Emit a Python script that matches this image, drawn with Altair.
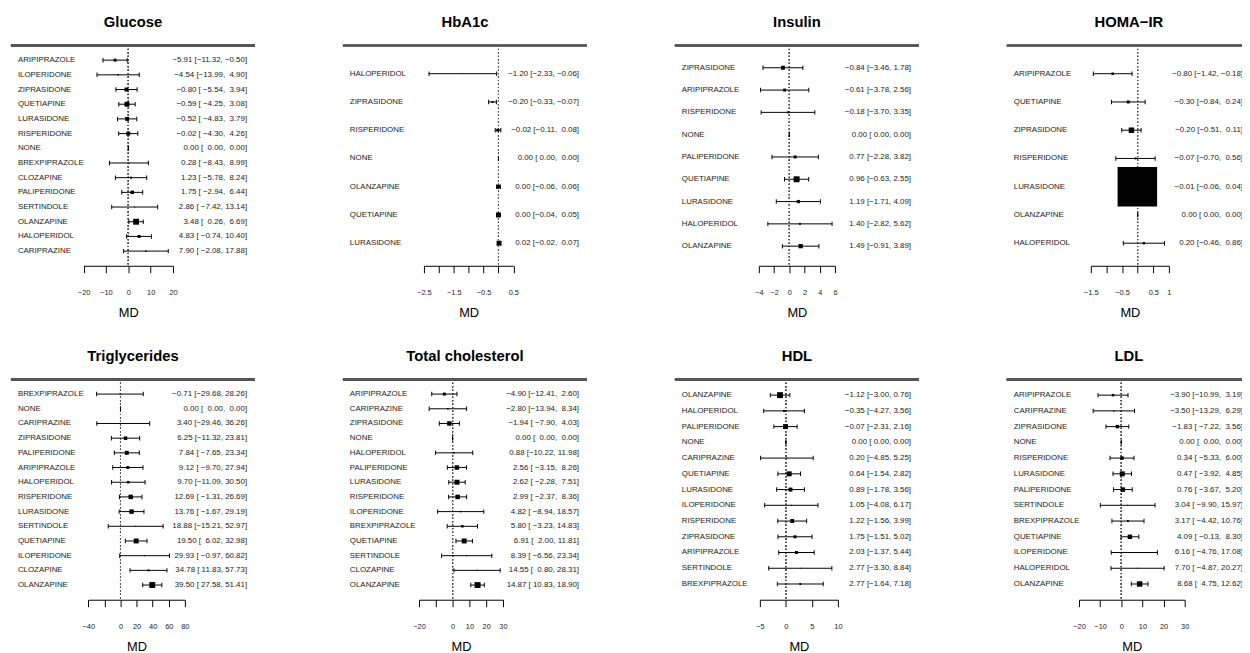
import altair as alt
import pandas as pd

FONT = "Liberation Sans"

# ---------------- data ----------------
glucose_drugs = ["ARIPIPRAZOLE", "ILOPERIDONE", "ZIPRASIDONE", "QUETIAPINE", "LURASIDONE", "RISPERIDONE", "NONE",
                 "BREXPIPRAZOLE", "CLOZAPINE", "PALIPERIDONE", "SERTINDOLE", "OLANZAPINE", "HALOPERIDOL", "CARIPRAZINE"]
glucose_md = [-5.91, -4.54, -0.80, -0.59, -0.52, -0.02, 0.00, 0.28, 1.23, 1.75, 2.86, 3.48, 4.83, 7.90]
glucose_lb = [-11.32, -13.99, -5.54, -4.25, -4.83, -4.30, 0.00, -8.43, -5.78, -2.94, -7.42, 0.26, -0.74, -2.08]
glucose_ub = [-0.50, 4.90, 3.94, 3.08, 3.79, 4.26, 0.00, 8.99, 8.24, 6.44, 13.14, 6.69, 10.40, 17.88]
glucose_wt = [3, 1.5, 4, 5, 4, 4, 0, 1.2, 2, 3.5, 1, 6, 3, 1.5]
glucose_ticks = [-20, -10, 0, 10, 20]
glucose_tick_labels = ["−20", "−10", "0", "10", "20"]

hba1c_drugs = ["HALOPERIDOL", "ZIPRASIDONE", "RISPERIDONE", "NONE", "OLANZAPINE", "QUETIAPINE", "LURASIDONE"]
hba1c_md = [-1.20, -0.20, -0.02, 0.00, 0.00, 0.00, 0.02]
hba1c_lb = [-2.33, -0.33, -0.11, 0.00, -0.06, -0.04, -0.02]
hba1c_ub = [-0.06, -0.07, 0.08, 0.00, 0.06, 0.05, 0.07]
hba1c_wt = [0.8, 2, 3, 0, 4, 5, 5]
hba1c_ticks = [-2.5, -2, -1.5, -1, -0.5, 0, 0.5]
hba1c_tick_labels = ["−2.5", "", "−1.5", "", "−0.5", "", "0.5"]

insulin_drugs = ["ZIPRASIDONE", "ARIPIPRAZOLE", "RISPERIDONE", "NONE", "PALIPERIDONE", "QUETIAPINE", "LURASIDONE",
                 "HALOPERIDOL", "OLANZAPINE"]
insulin_md = [-0.84, -0.61, -0.18, 0.00, 0.77, 0.96, 1.19, 1.40, 1.49]
insulin_lb = [-3.46, -3.78, -3.70, 0.00, -2.28, -0.63, -1.71, -2.82, -0.91]
insulin_ub = [1.78, 2.56, 3.35, 0.00, 3.82, 2.55, 4.09, 5.62, 3.89]
insulin_wt = [4, 3, 2, 0, 3, 6, 3.3, 2, 4.3]
insulin_ticks = [-4, -2, 0, 2, 4, 6]
insulin_tick_labels = ["−4", "−2", "0", "2", "4", "6"]

homa_drugs = ["ARIPIPRAZOLE", "QUETIAPINE", "ZIPRASIDONE", "RISPERIDONE", "LURASIDONE", "OLANZAPINE", "HALOPERIDOL"]
homa_md = [-0.80, -0.30, -0.20, -0.07, -0.01, 0.00, 0.20]
homa_lb = [-1.42, -0.84, -0.51, -0.70, -0.06, 0.00, -0.46]
homa_ub = [-0.18, 0.24, 0.11, 0.56, 0.04, 0.00, 0.86]
homa_wt = [2.5, 3, 5.5, 2, 40, 0, 2.5]
homa_ticks = [-1.5, -1, -0.5, 0, 0.5, 1]
homa_tick_labels = ["−1.5", "", "−0.5", "", "0.5", "1"]

trig_drugs = ["BREXPIPRAZOLE", "NONE", "CARIPRAZINE", "ZIPRASIDONE", "PALIPERIDONE", "ARIPIPRAZOLE", "HALOPERIDOL",
              "RISPERIDONE", "LURASIDONE", "SERTINDOLE", "QUETIAPINE", "ILOPERIDONE", "CLOZAPINE", "OLANZAPINE"]
trig_md = [-0.71, 0.00, 3.40, 6.25, 7.84, 9.12, 9.70, 12.69, 13.76, 18.88, 19.50, 29.93, 34.78, 39.50]
trig_lb = [-29.68, 0.00, -29.46, -11.32, -7.65, -9.70, -11.09, -1.31, -1.67, -15.21, 6.02, -0.97, 11.83, 27.58]
trig_ub = [28.26, 0.00, 36.26, 23.81, 23.34, 27.94, 30.50, 26.69, 29.19, 52.97, 32.98, 60.82, 57.73, 51.41]
trig_wt = [1, 0, 1, 3.5, 4, 3, 2.5, 4.5, 4.5, 1, 5, 1, 2, 6]
trig_ticks = [-40, -20, 0, 20, 40, 60, 80]
trig_tick_labels = ["−40", "", "0", "20", "40", "60", "80"]

tc_drugs = ["ARIPIPRAZOLE", "CARIPRAZINE", "ZIPRASIDONE", "NONE", "HALOPERIDOL", "PALIPERIDONE", "LURASIDONE",
            "RISPERIDONE", "ILOPERIDONE", "BREXPIPRAZOLE", "QUETIAPINE", "SERTINDOLE", "CLOZAPINE", "OLANZAPINE"]
tc_md = [-4.90, -2.80, -1.94, 0.00, 0.88, 2.56, 2.62, 2.99, 4.82, 5.80, 6.91, 8.39, 14.55, 14.87]
tc_lb = [-12.41, -13.94, -7.90, 0.00, -10.22, -3.15, -2.28, -2.37, -8.94, -3.23, 2.00, -6.56, 0.80, 10.83]
tc_ub = [2.60, 8.34, 4.03, 0.00, 11.98, 8.26, 7.51, 8.36, 18.57, 14.83, 11.81, 23.34, 28.31, 18.90]
tc_wt = [3, 1.5, 4.5, 0, 1.5, 4.5, 5, 4.5, 1.5, 2.5, 5, 1, 1, 6]
tc_ticks = [-20, -10, 0, 10, 20, 30]
tc_tick_labels = ["−20", "", "0", "10", "20", "30"]

hdl_drugs = ["OLANZAPINE", "HALOPERIDOL", "PALIPERIDONE", "NONE", "CARIPRAZINE", "QUETIAPINE", "LURASIDONE",
             "ILOPERIDONE", "RISPERIDONE", "ZIPRASIDONE", "ARIPIPRAZOLE", "SERTINDOLE", "BREXPIPRAZOLE"]
hdl_md = [-1.12, -0.35, -0.07, 0.00, 0.20, 0.64, 0.89, 1.05, 1.22, 1.75, 2.03, 2.77, 2.77]
hdl_lb = [-3.00, -4.27, -2.31, 0.00, -4.85, -1.54, -1.78, -4.08, -1.56, -1.51, -1.37, -3.30, -1.64]
hdl_ub = [0.76, 3.56, 2.16, 0.00, 5.25, 2.82, 3.56, 6.17, 3.99, 5.02, 5.44, 8.84, 7.18]
hdl_wt = [6, 2, 5, 0, 1, 5, 4, 1, 4, 3, 3, 1, 2]
hdl_ticks = [-5, 0, 5, 10]
hdl_tick_labels = ["−5", "0", "5", "10"]

ldl_drugs = ["ARIPIPRAZOLE", "CARIPRAZINE", "ZIPRASIDONE", "NONE", "RISPERIDONE", "LURASIDONE", "PALIPERIDONE",
             "SERTINDOLE", "BREXPIPRAZOLE", "QUETIAPINE", "ILOPERIDONE", "HALOPERIDOL", "OLANZAPINE"]
ldl_md = [-3.90, -3.50, -1.83, 0.00, 0.34, 0.47, 0.76, 3.04, 3.17, 4.09, 6.16, 7.70, 8.68]
ldl_lb = [-10.99, -13.29, -7.22, 0.00, -5.33, -3.92, -3.67, -9.90, -4.42, -0.13, -4.76, -4.87, 4.75]
ldl_ub = [3.19, 6.29, 3.56, 0.00, 6.00, 4.85, 5.20, 15.97, 10.76, 8.30, 17.08, 20.27, 12.62]
ldl_wt = [2.5, 1.5, 3.5, 0, 3.5, 5, 4.5, 1, 2, 4.5, 1, 1, 5.5]
ldl_ticks = [-20, -10, 0, 10, 20, 30]
ldl_tick_labels = ["−20", "−10", "0", "10", "20", "30"]

# ---------------- layout ----------------
W = 247
H = 223
panels = [
    dict(title="Glucose", drugs=glucose_drugs, md=glucose_md, lb=glucose_lb, ub=glucose_ub, wt=glucose_wt,
         ticks=glucose_ticks, tlab=glucose_tick_labels, xr=[73.5, 164], bpad=1.0),
    dict(title="HbA1c", drugs=hba1c_drugs, md=hba1c_md, lb=hba1c_lb, ub=hba1c_ub, wt=hba1c_wt,
         ticks=hba1c_ticks, tlab=hba1c_tick_labels, xr=[82, 172.5], bpad=0.8),
    dict(title="Insulin", drugs=insulin_drugs, md=insulin_md, lb=insulin_lb, ub=insulin_ub, wt=insulin_wt,
         ticks=insulin_ticks, tlab=insulin_tick_labels, xr=[85, 162], bpad=0.88),
    dict(title="HOMA−IR", drugs=homa_drugs, md=homa_md, lb=homa_lb, ub=homa_ub, wt=homa_wt,
         ticks=homa_ticks, tlab=homa_tick_labels, xr=[85, 164], bpad=0.8),
    dict(title="Triglycerides", drugs=trig_drugs, md=trig_md, lb=trig_lb, ub=trig_ub, wt=trig_wt,
         ticks=trig_ticks, tlab=trig_tick_labels, xr=[78.3, 176], bpad=1.0),
    dict(title="Total cholesterol", drugs=tc_drugs, md=tc_md, lb=tc_lb, ub=tc_ub, wt=tc_wt,
         ticks=tc_ticks, tlab=tc_tick_labels, xr=[77, 162], bpad=1.0),
    dict(title="HDL", drugs=hdl_drugs, md=hdl_md, lb=hdl_lb, ub=hdl_ub, wt=hdl_wt,
         ticks=hdl_ticks, tlab=hdl_tick_labels, xr=[86, 165], bpad=1.0),
    dict(title="LDL", drugs=ldl_drugs, md=ldl_md, lb=ldl_lb, ub=ldl_ub, wt=ldl_wt,
         ticks=ldl_ticks, tlab=ldl_tick_labels, xr=[73, 180], bpad=1.0),
]

NB = "\u00a0"


def annotations(md, lb, ub):
    e = [f"{v:.2f}" for v in md]
    l = [f"{v:.2f}" for v in lb]
    u = [f"{v:.2f}" for v in ub]
    we, wl, wu = max(map(len, e)), max(map(len, l)), max(map(len, u))
    out = []
    for a, b, c in zip(e, l, u):
        a = NB * (we - len(a)) + a
        b = NB * (wl - len(b)) + b
        c = NB * (wu - len(c)) + c
        out.append(f"{a} [{b}, {c}]".replace("-", "−"))
    return out


def make_panel(p):
    k = len(p["drugs"])
    df = pd.DataFrame({
        "drug": p["drugs"], "md": p["md"], "lb": p["lb"], "ub": p["ub"], "wt": p["wt"],
        "row": list(range(k)), "ann": annotations(p["md"], p["lb"], p["ub"]),
    })
    ticks = p["ticks"]
    tick_arr = "[" + ",".join(repr(float(t)) for t in ticks) + "]"
    lab_arr = "[" + ",".join("'" + s + "'" for s in p["tlab"]) + "]"
    axis = alt.Axis(
        values=ticks, labelExpr=f"{lab_arr}[indexof({tick_arr}, datum.value)]",
        grid=False, domainColor="black", domainWidth=1, tickColor="black", tickWidth=1, tickSize=7,
        labelFont=FONT, labelFontSize=7.5, labelColor="#222", labelPadding=16,
        labelFlush=False, labelOverlap=False,
        titleFont=FONT, titleFontSize=13, titleFontWeight="normal", titleColor="black", titlePadding=11,
    )
    xscale = alt.Scale(domain=[ticks[0], ticks[-1]], range=p["xr"], nice=False, zero=False)
    yscale = alt.Scale(domain=[-1, k - 1 + p["bpad"]], reverse=True, nice=False, zero=False)
    y = alt.Y("row:Q", scale=yscale, axis=None)

    base = alt.Chart(df)
    top_line = base.mark_rule(color="#555", strokeWidth=1.5).encode(
        x=alt.value(0), x2=alt.value(W), y=alt.value(0))
    zero_line = base.mark_rule(color="#555", strokeDash=[1, 2.5], strokeWidth=1).encode(
        x=alt.X(datum=0, type="quantitative", scale=xscale, axis=axis, title="MD"),
        y=alt.value(0), y2=alt.value(H))
    ci = base.mark_rule(color="black", strokeWidth=1).encode(
        x=alt.X("lb:Q", scale=xscale, axis=axis, title="MD"), x2="ub:Q", y=y)
    cap_l = base.mark_tick(orient="vertical", color="black", size=4.5, thickness=1, opacity=1).encode(
        x=alt.X("lb:Q", scale=xscale, axis=axis, title="MD"), y=y)
    cap_u = base.mark_tick(orient="vertical", color="black", size=4.5, thickness=1, opacity=1).encode(
        x=alt.X("ub:Q", scale=xscale, axis=axis, title="MD"), y=y)
    sq = base.mark_square(filled=True, color="black", opacity=1).encode(
        x=alt.X("md:Q", scale=xscale, axis=axis, title="MD"), y=y,
        size=alt.Size("wt:Q", scale=alt.Scale(type="pow", exponent=2, domain=[0, 10], range=[0, 100]),
                      legend=None))
    names = base.mark_text(align="left", baseline="middle", font=FONT, fontSize=8, color="#222").encode(
        x=alt.value(7), y=y, text="drug:N")
    ann = base.mark_text(align="right", baseline="middle", font=FONT, fontSize=8, color="#222").encode(
        x=alt.value(239), y=y, text="ann:N")

    return alt.layer(top_line, zero_line, ci, cap_l, cap_u, sq, names, ann).properties(
        width=W, height=H,
        title=alt.TitleParams(p["title"], font=FONT, fontSize=15, fontWeight="bold", anchor="middle",
                              offset=15, color="black"),
    )


row1 = alt.hconcat(*[make_panel(p) for p in panels[:4]], spacing=87)
row2 = alt.hconcat(*[make_panel(p) for p in panels[4:]], spacing=87)
chart = alt.vconcat(row1, row2, spacing=29).properties(
    padding={"left": 2, "top": 3, "right": -10, "bottom": -5}
).configure(background="white").configure_view(strokeWidth=0, stroke="transparent")

chart.save("out.html", embed_options={"renderer": "svg", "actions": False})
